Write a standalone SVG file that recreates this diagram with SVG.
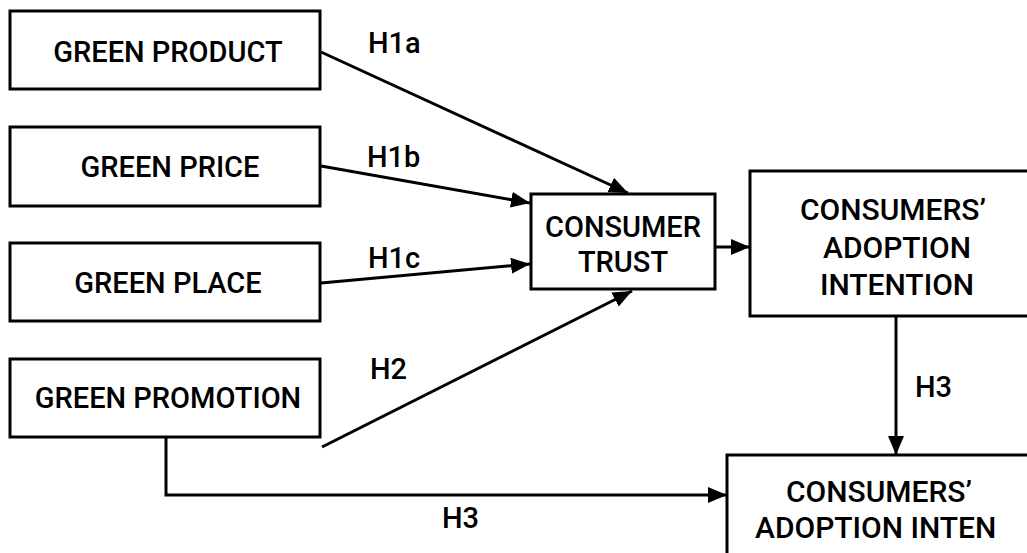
<svg xmlns="http://www.w3.org/2000/svg" width="1027" height="553" viewBox="0 0 1027 553">
<style>
.box{fill:#fff;stroke:#000;stroke-width:3}
.t{font-family:Roboto,"Liberation Sans",Arial,sans-serif;font-weight:500;font-size:29px;fill:#000;text-anchor:middle}
.tl{font-size:30px}
.lab{font-family:Roboto,"Liberation Sans",Arial,sans-serif;font-weight:500;font-size:29px;fill:#000}
.c{fill:none;stroke:#000;stroke-width:3}
</style>
<defs>
<marker id="ah" markerUnits="userSpaceOnUse" markerWidth="20" markerHeight="16" refX="19" refY="8" orient="auto">
<path d="M0,0 L19,8 L0,16 z" fill="#000"/>
</marker>
</defs>
<rect width="1027" height="553" fill="#fff"/>
<g id="connectors">
<line class="c" x1="321" y1="52" x2="628" y2="193" marker-end="url(#ah)"/>
<line class="c" x1="321" y1="166" x2="530" y2="203" marker-end="url(#ah)"/>
<line class="c" x1="321" y1="283" x2="530" y2="264" marker-end="url(#ah)"/>
<line class="c" x1="322" y1="447" x2="632" y2="291" marker-end="url(#ah)"/>
<line class="c" x1="715" y1="247" x2="750" y2="247" marker-end="url(#ah)"/>
<line class="c" x1="896" y1="316" x2="896" y2="455" marker-end="url(#ah)"/>
<polyline class="c" points="166,437 166,495 727,495" marker-end="url(#ah)"/>
</g>
<g id="labels">
<text class="lab" x="368" y="53">H1a</text>
<text class="lab" x="367" y="167">H1b</text>
<text class="lab" x="368" y="268">H1c</text>
<text class="lab" x="370" y="379">H2</text>
<text class="lab" x="915" y="397">H3</text>
<text class="lab" x="442" y="528">H3</text>
</g>
<g id="green-product">
<rect class="box" x="10" y="11" width="310" height="78"/>
<text class="t" x="168" y="62">GREEN PRODUCT</text>
</g>
<g id="green-price">
<rect class="box" x="10" y="127" width="310" height="79"/>
<text class="t" x="170" y="177">GREEN PRICE</text>
</g>
<g id="green-place">
<rect class="box" x="10" y="243" width="310" height="78"/>
<text class="t" x="168" y="293">GREEN PLACE</text>
</g>
<g id="green-promotion">
<rect class="box" x="10" y="359" width="310" height="78"/>
<text class="t" x="168" y="408">GREEN PROMOTION</text>
</g>
<g id="consumer-trust">
<rect class="box" x="531" y="194" width="184" height="95"/>
<text class="t" x="623" y="237">CONSUMER</text>
<text class="t" x="623" y="272">TRUST</text>
</g>
<g id="adoption-intention">
<rect class="box" x="750" y="171" width="290" height="145"/>
<text class="t tl" x="893" y="220">CONSUMERS’</text>
<text class="t tl" x="897" y="258">ADOPTION</text>
<text class="t tl" x="897" y="295">INTENTION</text>
</g>
<g id="adoption-intention-2">
<rect class="box" x="727" y="455" width="320" height="150"/>
<text class="t tl" x="879" y="502">CONSUMERS’</text>
<text class="t tl" x="755" y="538" style="text-anchor:start">ADOPTION INTEN</text>
</g>
</svg>
